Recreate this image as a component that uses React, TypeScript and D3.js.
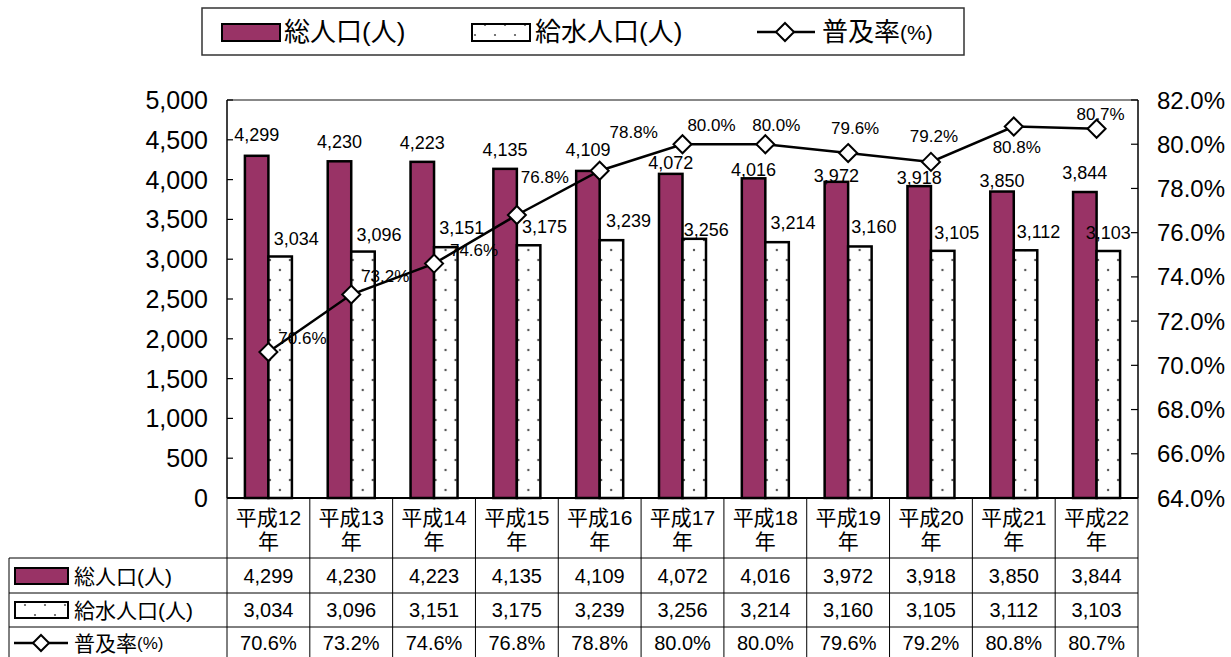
import React from 'react';
import * as d3 from 'd3';

const categories = ['平成12年','平成13年','平成14年','平成15年','平成16年','平成17年','平成18年','平成19年','平成20年','平成21年','平成22年'];
const totalPop = [4299,4230,4223,4135,4109,4072,4016,3972,3918,3850,3844];
const servedPop = [3034,3096,3151,3175,3239,3256,3214,3160,3105,3112,3103];
const rate = [70.6,73.2,74.6,76.8,78.8,80.0,80.0,79.6,79.2,80.8,80.7];
const leftTicks = [0,500,1000,1500,2000,2500,3000,3500,4000,4500,5000];
const rightTicks = [64,66,68,70,72,74,76,78,80,82];
const seriesNames = ['総人口(人)','給水人口(人)','普及率'];

// label nudges (layout only)
const totalLabelNudge = [[0,-21],[0,-19],[0,-19],[0,-19],[0,-21],[0,-11],[0,-8],[0,-6],[0,-8],[0,-11],[0,-19]];
const servedLabelNudge = [[16,-17],[16,-17],[16,-19],[16,-18],[17,-19],[12,-9],[16,-19],[14,-19],[14,-18],[13,-18],[0,-18]];
const rateLabelNudge = [[34,-14],[34,-18],[40,-13],[28,-37],[34,-38],[29,-19],[11,-19],[7,-25],[3,-25],[3,21],[4,-14]];

const FONT = '"Liberation Sans", Arial, "Noto Sans CJK JP", sans-serif';
const PURPLE = '#993366';

const L = 227, R = 1138, T = 100, B = 498;

export default function App() {
  const x = d3.scaleBand<string>().domain(categories).range([L, R]).padding(0);
  const bw = x.bandwidth();
  const barW = 23.5;
  const yL = d3.scaleLinear().domain([0, 5000]).range([B, T]);
  const yR = d3.scaleLinear().domain([64, 82]).range([B, T]);
  const cx = (i: number) => (x(categories[i]) as number) + bw / 2;
  const line = d3.line<number>().x((_, i) => cx(i)).y(d => yR(d));
  const fmt = d3.format(',');
  const pfmt = (v: number) => v.toFixed(1) + '%';

  const diamond = (px: number, py: number, r = 9) =>
    `M${px},${py - r}L${px + r},${py}L${px},${py + r}L${px - r},${py}Z`;

  const rowY = [558, 593, 627];
  const rowCenters = [576, 610, 643];

  return (
    <svg width={1231} height={657} style={{ position: 'absolute', left: 0, top: 0, background: '#fff' }} fontFamily={FONT}>
      <defs>
        {categories.map((c, i) => (
          <pattern key={c} id={`dots${i}`} patternUnits="userSpaceOnUse" x={cx(i) - 3.5} y={B - 3} width={20} height={20}>
            <rect width={20} height={20} fill="#fff" />
            <circle cx={5} cy={5} r={1.2} fill="#555" />
            <circle cx={15} cy={15} r={1.2} fill="#555" />
          </pattern>
        ))}
        <pattern id="dotsLeg" patternUnits="userSpaceOnUse" x={0} y={0} width={20} height={20}>
          <rect width={20} height={20} fill="#fff" />
          <circle cx={5} cy={5} r={1.1} fill="#555" />
          <circle cx={15} cy={15} r={1.1} fill="#555" />
        </pattern>
      </defs>

      {/* top legend */}
      <rect x={202} y={8} width={762} height={47} fill="#fff" stroke="#333" strokeWidth={1.5} />
      <rect x={222} y={24} width={58} height={17} fill={PURPLE} stroke="#000" strokeWidth={2} />
      <text x={284} y={32} fontSize={26} dominantBaseline="central">{seriesNames[0]}</text>
      <rect x={472} y={24} width={58} height={17} fill="url(#dotsLeg)" stroke="#000" strokeWidth={2} />
      <text x={535} y={32} fontSize={26} dominantBaseline="central">{seriesNames[1]}</text>
      <line x1={757} x2={815} y1={32} y2={32} stroke="#000" strokeWidth={2.5} />
      <path d={diamond(785, 32, 9)} fill="#fff" stroke="#000" strokeWidth={2} />
      <text x={822} y={32} fontSize={26} dominantBaseline="central">{seriesNames[2]}<tspan fontSize={21}>(%)</tspan></text>

      {/* plot frame */}
      <line x1={L} x2={R} y1={T} y2={T} stroke="#888" strokeWidth={2} />

      {/* bars */}
      {categories.map((c, i) => (
        <g key={c}>
          <rect x={cx(i) - barW} y={yL(totalPop[i])} width={barW} height={B - yL(totalPop[i])} fill={PURPLE} stroke="#000" strokeWidth={2.5} />
          <rect x={cx(i)} y={yL(servedPop[i])} width={barW} height={B - yL(servedPop[i])} fill={`url(#dots${i})`} stroke="#000" strokeWidth={2.5} />
        </g>
      ))}

      {/* axes */}
      <line x1={L} x2={L} y1={T} y2={B} stroke="#000" strokeWidth={1.5} />
      <line x1={R} x2={R} y1={T} y2={B} stroke="#000" strokeWidth={1.5} />
      <line x1={L} x2={R} y1={B} y2={B} stroke="#000" strokeWidth={2} />
      {leftTicks.map(t => (
        <g key={t}>
          <line x1={L} x2={L + 6} y1={yL(t)} y2={yL(t)} stroke="#000" strokeWidth={1.2} />
          <text x={208} y={yL(t)} textAnchor="end" dominantBaseline="central" fontSize={25}>{fmt(t)}</text>
        </g>
      ))}
      {rightTicks.map(t => (
        <g key={t}>
          <line x1={R - 7} x2={R} y1={yR(t)} y2={yR(t)} stroke="#000" strokeWidth={1.2} />
          <text x={1157} y={yR(t)} textAnchor="start" dominantBaseline="central" fontSize={24}>{t.toFixed(1)}%</text>
        </g>
      ))}

      {/* bar labels */}
      {categories.map((c, i) => (
        <g key={'l' + c} fontSize={18}>
          <text x={cx(i) - barW / 2 + totalLabelNudge[i][0]} y={yL(totalPop[i]) + totalLabelNudge[i][1]} textAnchor="middle" dominantBaseline="central">{fmt(totalPop[i])}</text>
          <text x={cx(i) + barW / 2 + servedLabelNudge[i][0]} y={yL(servedPop[i]) + servedLabelNudge[i][1]} textAnchor="middle" dominantBaseline="central">{fmt(servedPop[i])}</text>
        </g>
      ))}

      {/* line */}
      <path d={line(rate) as string} fill="none" stroke="#000" strokeWidth={2.5} />
      {rate.map((v, i) => (
        <path key={'m' + i} d={diamond(cx(i), yR(v), 9)} fill="#fff" stroke="#000" strokeWidth={2} />
      ))}
      {rate.map((v, i) => (
        <text key={'rl' + i} x={cx(i) + rateLabelNudge[i][0]} y={yR(v) + rateLabelNudge[i][1]} textAnchor="middle" dominantBaseline="central" fontSize={17}>{pfmt(v)}</text>
      ))}

      {/* data table */}
      {rowY.map(y => (
        <line key={'h' + y} x1={9} x2={R} y1={y} y2={y} stroke="#000" strokeWidth={1} />
      ))}
      <line x1={9} x2={9} y1={rowY[0]} y2={657} stroke="#000" strokeWidth={1} />
      {d3.range(categories.length + 1).map(k => {
        const xx = k < categories.length ? (x(categories[k]) as number) : R;
        return <line key={'v' + k} x1={xx} x2={xx} y1={B} y2={657} stroke="#000" strokeWidth={1} />;
      })}
      {categories.map((c, i) => (
        <g key={'t' + c} textAnchor="middle" dominantBaseline="central">
          <text x={cx(i)} y={517} fontSize={21}>{c.slice(0, -1)}</text>
          <text x={cx(i)} y={541} fontSize={21}>{c.slice(-1)}</text>
          <text x={cx(i)} y={rowCenters[0]} fontSize={20}>{fmt(totalPop[i])}</text>
          <text x={cx(i)} y={rowCenters[1]} fontSize={20}>{fmt(servedPop[i])}</text>
          <text x={cx(i)} y={rowCenters[2]} fontSize={20}>{pfmt(rate[i])}</text>
        </g>
      ))}
      {/* table legend column */}
      <rect x={15} y={rowCenters[0] - 8} width={53} height={16} fill={PURPLE} stroke="#000" strokeWidth={2} />
      <text x={74} y={rowCenters[0]} fontSize={21} dominantBaseline="central">{seriesNames[0]}</text>
      <rect x={15} y={rowCenters[1] - 8} width={53} height={16} fill="url(#dotsLeg)" stroke="#000" strokeWidth={2} />
      <text x={74} y={rowCenters[1]} fontSize={21} dominantBaseline="central">{seriesNames[1]}</text>
      <line x1={14} x2={68} y1={rowCenters[2]} y2={rowCenters[2]} stroke="#000" strokeWidth={2.5} />
      <path d={diamond(41, rowCenters[2], 8)} fill="#fff" stroke="#000" strokeWidth={2} />
      <text x={74} y={rowCenters[2]} fontSize={21} dominantBaseline="central">{seriesNames[2]}<tspan fontSize={17}>(%)</tspan></text>
    </svg>
  );
}
